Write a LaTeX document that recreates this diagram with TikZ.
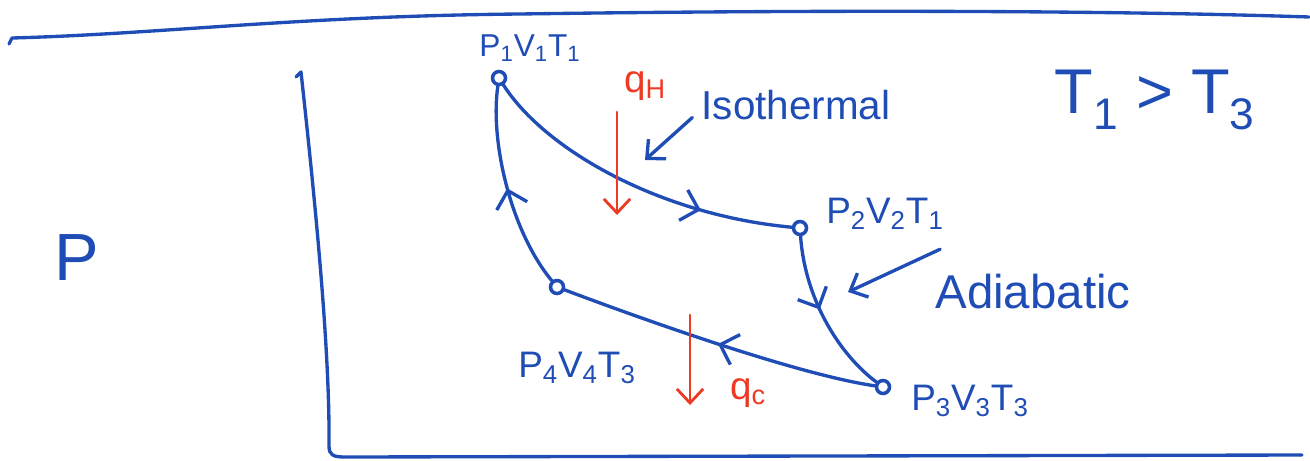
\documentclass[tikz,border=0pt]{standalone}
\usepackage{fontspec}
\setmainfont{Liberation Sans}
\usetikzlibrary{arrows.meta,decorations.markings}
\definecolor{pen}{HTML}{1F4DB5}
\definecolor{redpen}{HTML}{EE3A24}
\begin{document}
\begin{tikzpicture}[x=0.02cm,y=-0.02cm,
  ink/.style={draw=pen,line width=1.9pt,line cap=round,line join=round},
  redink/.style={draw=redpen,line width=1.6pt,line cap=round},
  state/.style={circle,draw=pen,line width=2pt,minimum size=0.26cm,inner sep=0pt},
  lbl/.style={text=pen,font=\fontsize{21}{24}\selectfont,inner sep=0pt},
  qlbl/.style={text=redpen,font=\fontsize{22}{26}\selectfont,inner sep=0pt},
  barb/.style={-{Straight Barb[length=8pt,width=15pt]}},
  midarrow/.style={postaction={decorate,decoration={markings,mark=at position #1 with {\arrow[pen,line width=1.9pt]{Straight Barb[length=9pt,width=18pt]}}}}}
]
\useasboundingbox (0,0) rectangle (1310,460);

% frame / axes
\draw[ink] (9,44) -- (12,38) .. controls (160,34) and (300,16) .. (520,14) .. controls (800,10) and (1100,10) .. (1309,17);
\draw[ink] (296,77) -- (301,72) .. controls (315,200) and (330,350) .. (329,446) .. controls (329,455) and (333,457) .. (345,457) -- (1302,455);
\node[lbl,font=\fontsize{38}{40}\selectfont] (P) at (77,258) {P};

% states
\node[state] (p1) at (499,78) {};
\node[state] (p2) at (800,228) {};
\node[state] (p3) at (883,387) {};
\node[state] (p4) at (557,287) {};

% labels of states
\node[lbl,font=\fontsize{18}{20}\selectfont] (l1) at (530,48) {P\textsubscript{1}V\textsubscript{1}T\textsubscript{1}};
\node[lbl] (l2) at (885,214) {P\textsubscript{2}V\textsubscript{2}T\textsubscript{1}};
\node[lbl] (l3) at (970,401) {P\textsubscript{3}V\textsubscript{3}T\textsubscript{3}};
\node[lbl] (l4) at (577,368) {P\textsubscript{4}V\textsubscript{4}T\textsubscript{3}};
\node[lbl,font=\fontsize{36}{40}\selectfont] (cmp) at (1155,100) {T\textsubscript{1} > T\textsubscript{3}};

% cycle
\draw[ink,midarrow=0.72] (p1) .. controls (545,150) and (660,215) .. (p2);
\draw[ink,midarrow=0.45] (p2) .. controls (805,300) and (840,355) .. (p3);
\draw[ink,midarrow=0.5] (p3) .. controls (800,375) and (650,322) .. (p4);
\draw[ink,midarrow=0.5] (p4) .. controls (510,230) and (490,140) .. (p1);

% heat flows
\coordinate (qh1) at (617,112);
\coordinate (qh2) at (617,215);
\draw[redink,barb] (qh1) -- (qh2);
\node[qlbl] (qH) at (645,86) {q\textsubscript{H}};
\coordinate (qc1) at (690,315);
\coordinate (qc2) at (690,405);
\draw[redink,barb] (qc1) -- (qc2);
\node[qlbl] (qC) at (748,393) {q\textsubscript{c}};

% annotations
\node[lbl,font=\fontsize{23}{26}\selectfont] (iso) at (796,105) {Isothermal};
\coordinate (isoend) at (645,160);
\draw[ink,barb] ([xshift=-0.18cm,yshift=-0.25cm]iso.west) -- (isoend);
\node[lbl,font=\fontsize{27}{30}\selectfont] (adi) at (1033,292) {Adiabatic};
\coordinate (adiend) at (848,292);
\draw[ink,barb] ([xshift=0.1cm,yshift=0.5cm]adi.north west) -- (adiend);
\end{tikzpicture}
\end{document}
